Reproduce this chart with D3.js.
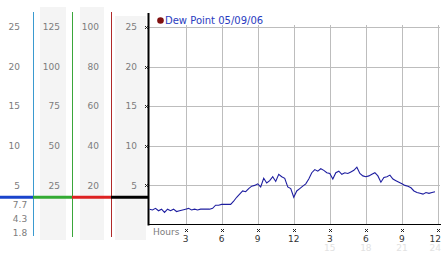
<!DOCTYPE html>
<html>
<head>
<meta charset="utf-8">
<script src="https://cdn.jsdelivr.net/npm/d3@7"></script>
<style>
  html, body { margin: 0; padding: 0; background: #fff; }
  svg { display: block; }
  text { font-family: "DejaVu Sans", Verdana, sans-serif; }
</style>
</head>
<body>
<svg id="chart" width="442" height="253"></svg>
<script>
// ---- data ----
const seriesName = "Dew Point 05/09/06";
const hours = [0,0.25,0.5,0.75,1,1.25,1.5,1.75,2,2.25,2.5,2.75,3,3.25,3.5,3.75,4,4.25,4.5,4.75,5,5.25,5.5,5.75,6,6.25,6.5,6.75,7,7.25,7.5,7.75,8,8.25,8.5,8.75,9,9.25,9.5,9.75,10,10.25,10.5,10.75,11,11.25,11.5,11.75,12,12.25,12.5,12.75,13,13.25,13.5,13.75,14,14.25,14.5,14.75,15,15.25,15.5,15.75,16,16.25,16.5,16.75,17,17.25,17.5,17.75,18,18.25,18.5,18.75,19,19.25,19.5,19.75,20,20.25,20.5,20.75,21,21.25,21.5,21.75,22,22.25,22.5,22.75,23,23.25,23.5,23.75];
const dewPoint = [2.0,1.9,2.1,1.8,2.0,1.6,2.0,1.8,2.0,1.7,1.8,1.9,2.0,2.1,1.9,2.0,1.9,2.0,2.0,2.0,2.0,2.1,2.5,2.5,2.6,2.6,2.6,2.6,3.0,3.5,3.9,4.3,4.2,4.6,4.9,5.0,5.2,4.8,5.9,5.3,5.6,6.1,5.5,6.4,6.1,5.9,4.8,4.6,3.5,4.3,4.6,4.9,5.2,5.8,6.6,7.0,6.8,7.1,6.9,6.6,6.5,5.8,6.6,6.8,6.4,6.6,6.5,6.7,6.9,7.3,6.5,6.2,6.1,6.2,6.4,6.6,6.2,5.4,6.0,6.1,6.3,5.8,5.6,5.4,5.2,5.0,4.9,4.7,4.3,4.1,4.0,3.9,4.1,4.0,4.1,4.2];
const yTicks = [5,10,15,20,25];
const col1Labels = ["5","10","15","20","25"];
const col2Labels = ["25","50","75","100","125"];
const col3Labels = ["20","40","60","80","100"];
const col4Labels = ["5","10","15","20","25"];
const col1Extra = ["7.7","4.3","1.8"];
const xTicks = [3,6,9,12,15,18,21,24];
const xTickLabels = ["3","6","9","12","3","6","9","12"];
const xTickLabels2 = ["","","","","15","18","21","24"];
const markerValue = 3.5;

// ---- scales ----
const svg = d3.select("#chart");
const x = d3.scaleLinear().domain([0,24]).range([149.5,438]);
const y = d3.scaleLinear().domain([0,25]).range([225,27]);
const py = v => Math.round(y(v)) + 0.5;
const px = v => Math.round(x(v)) + 0.5;
const labelColor = "#7c7c7c";

// ---- left panel backgrounds ----
const bgs = [[40,7,26,233],[80,7,24,233],[115,16,31,224]];
svg.selectAll("rect.bg").data(bgs).enter().append("rect")
  .attr("x",d=>d[0]).attr("y",d=>d[1]).attr("width",d=>d[2]).attr("height",d=>d[3])
  .attr("fill","#f4f4f4");

// vertical colored lines
const vlines = [[33.5,12,236,"#3a9ad0"],[72.5,12,237,"#3aa63a"],[111.5,12,237,"#b02a2a"]];
svg.selectAll("line.vl").data(vlines).enter().append("line")
  .attr("x1",d=>d[0]).attr("x2",d=>d[0]).attr("y1",d=>d[1]).attr("y2",d=>d[2])
  .attr("stroke",d=>d[3]).attr("stroke-width",1);

// column labels
function colLabels(labels, xr, anchor){
  svg.append("g").selectAll("text").data(labels).enter().append("text")
    .attr("x",xr).attr("y",(d,i)=>y(yTicks[i]))
    .attr("dy","0.35em").attr("text-anchor",anchor)
    .attr("font-size",9).attr("fill",labelColor).text(d=>d);
}
colLabels(col1Labels,20,"end");
colLabels(col2Labels,60,"end");
colLabels(col3Labels,99,"end");
colLabels(col4Labels,137,"end");
svg.append("g").selectAll("text").data(col1Extra).enter().append("text")
  .attr("x",20).attr("y",(d,i)=>205+i*13.7).attr("dy","0.35em")
  .attr("text-anchor","middle").attr("font-size",9).attr("fill",labelColor).text(d=>d);

// ---- plot grid ----
svg.append("g").selectAll("line").data(yTicks).enter().append("line")
  .attr("x1",149).attr("x2",440).attr("y1",d=>py(d)).attr("y2",d=>py(d))
  .attr("stroke","#bdbdbd").attr("stroke-width",1);
svg.append("g").selectAll("line").data(xTicks).enter().append("line")
  .attr("x1",d=>px(d)).attr("x2",d=>px(d)).attr("y1",25).attr("y2",225)
  .attr("stroke","#bdbdbd").attr("stroke-width",1);

// marker horizontal line
const segs = [[0,33,"#1a44cc"],[33,72,"#33aa33"],[72,111,"#dd2222"],[111,149,"#000"]];
svg.append("g").selectAll("line").data(segs).enter().append("line")
  .attr("x1",d=>d[0]).attr("x2",d=>d[1]).attr("y1",y(markerValue)).attr("y2",y(markerValue))
  .attr("stroke",d=>d[2]).attr("stroke-width",3);

// axes
svg.append("line").attr("x1",148.5).attr("x2",148.5).attr("y1",13).attr("y2",225.5)
  .attr("stroke","#000").attr("stroke-width",2);
svg.append("line").attr("x1",148).attr("x2",441).attr("y1",224.5).attr("y2",224.5)
  .attr("stroke","#000").attr("stroke-width",1);

// small x marks
function xmark(g, cx, cy){
  g.append("path").attr("d",`M${cx-1.5},${cy-1.5}L${cx+1.5},${cy+1.5}M${cx+1.5},${cy-1.5}L${cx-1.5},${cy+1.5}`)
    .attr("stroke","#222").attr("stroke-width",1).attr("fill","none");
}
const ym = svg.append("g");
yTicks.forEach(v=>xmark(ym,146.5,py(v)));
const xm = svg.append("g");
xTicks.forEach(v=>xmark(xm,px(v),230.5));

// x labels
svg.append("text").attr("x",153).attr("y",232).attr("dy","0.35em")
  .attr("font-size",9).attr("fill",labelColor).text("Hours");
const lastI = xTicks.length - 1;
svg.append("g").selectAll("text").data(xTickLabels).enter().append("text")
  .attr("x",(d,i)=> i===lastI ? 441 : x(xTicks[i])).attr("y",238.5).attr("dy","0.35em")
  .attr("text-anchor",(d,i)=> i===lastI ? "end" : "middle")
  .attr("font-size",9).attr("fill","#333").text(d=>d);
svg.append("g").selectAll("text").data(xTickLabels2).enter().append("text")
  .attr("x",(d,i)=> i===lastI ? 441 : x(xTicks[i])).attr("y",247.5).attr("dy","0.35em")
  .attr("text-anchor",(d,i)=> i===lastI ? "end" : "middle")
  .attr("font-size",9).attr("fill","#e2e2e2").text(d=>d);

// data line
const line = d3.line().x((d,i)=>x(hours[i])).y(d=>y(d));
svg.append("path").datum(dewPoint).attr("d",line)
  .attr("fill","none").attr("stroke","#1e1ea0").attr("stroke-width",1.1);

// legend
svg.append("circle").attr("cx",160.5).attr("cy",20.5).attr("r",3.3).attr("fill","#801010");
svg.append("text").attr("x",165).attr("y",24).attr("font-size",10).attr("fill","#2a3cc0").text(seriesName);
</script>
</body>
</html>
